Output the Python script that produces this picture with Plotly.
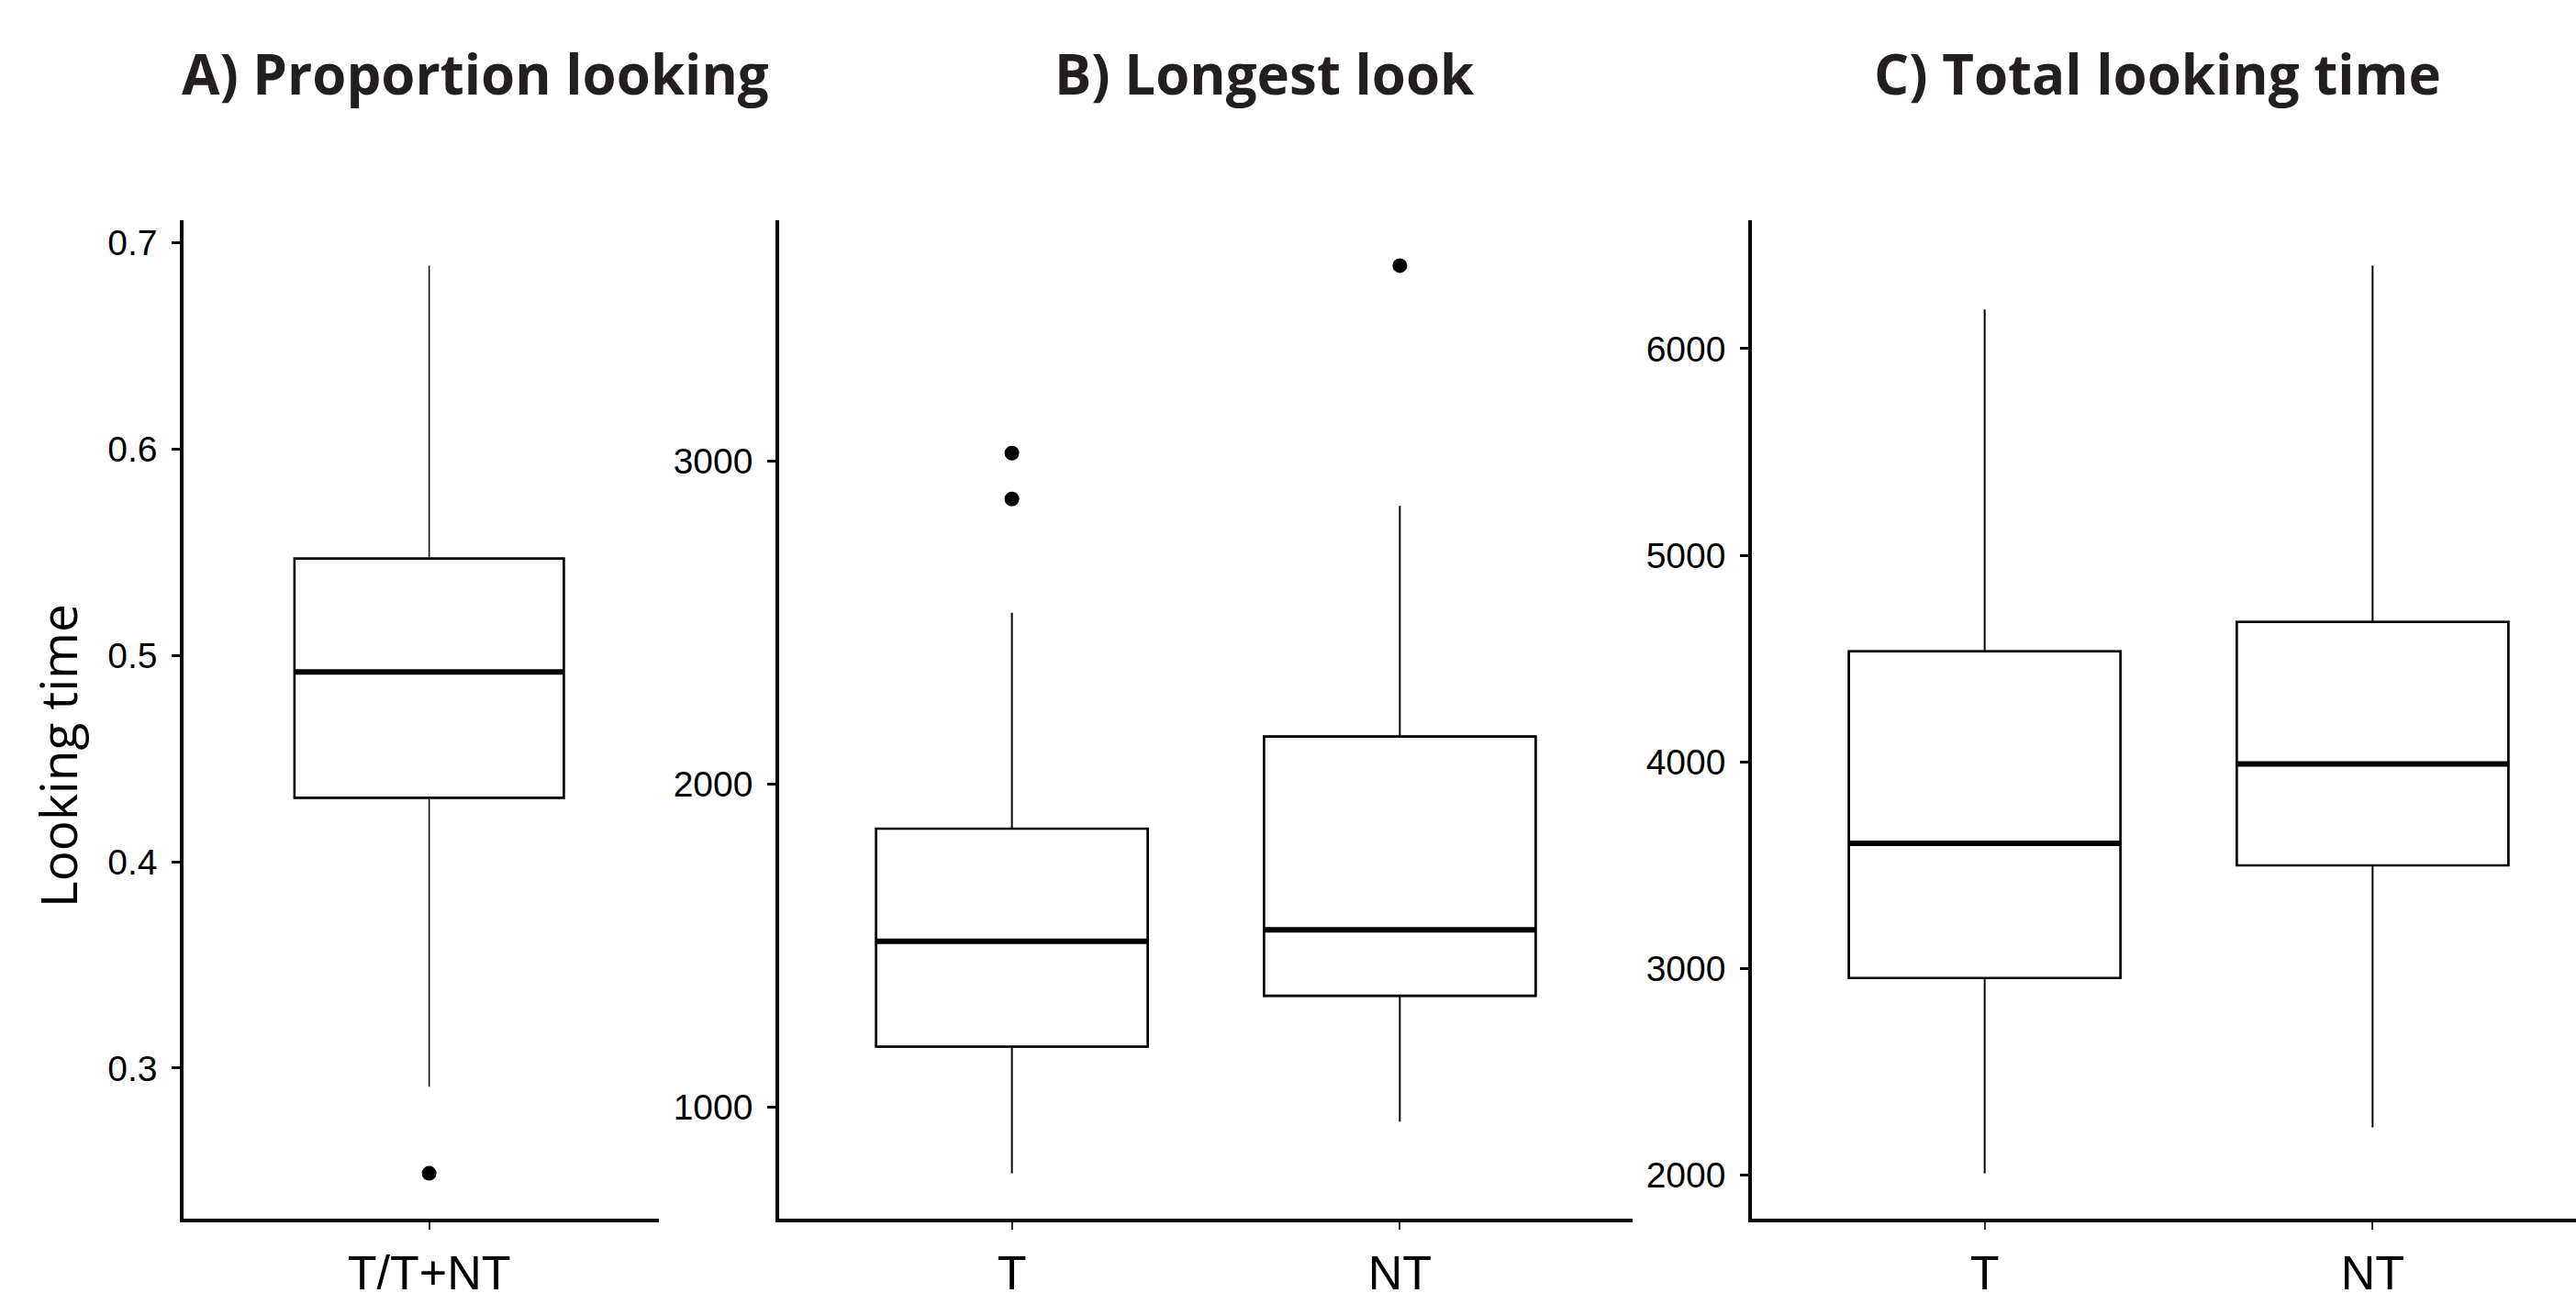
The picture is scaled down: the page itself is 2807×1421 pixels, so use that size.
import plotly.graph_objects as go

W, H = 2807, 1421

# ---------------- data ----------------
# Panel A: Proportion looking
a_title = "A) Proportion looking"
a_cats = ["T/T+NT"]
a_q1 = [0.431]
a_med = [0.492]
a_q3 = [0.547]
a_lo = [0.291]
a_hi = [0.689]
a_out = [[0.249]]
a_ticks = [0.3, 0.4, 0.5, 0.6, 0.7]

# Panel B: Longest look
b_title = "B) Longest look"
b_cats = ["T", "NT"]
b_q1 = [1188, 1345]
b_med = [1514, 1549]
b_q3 = [1862, 2147]
b_lo = [796, 956]
b_hi = [2530, 2861]
b_out = [[3024, 2882], [3604]]
b_ticks = [1000, 2000, 3000]

# Panel C: Total looking time
c_title = "C) Total looking time"
c_cats = ["T", "NT"]
c_q1 = [2955, 3500]
c_med = [3607, 3991]
c_q3 = [4536, 4678]
c_lo = [2010, 2232]
c_hi = [6190, 6402]
c_out = [[], []]
c_ticks = [2000, 3000, 4000, 5000, 6000]

y_title = "Looking time"

# ---------------- layout geometry (pixels) ----------------
panels = [
    dict(title=a_title, cats=a_cats, q1=a_q1, med=a_med, q3=a_q3, lo=a_lo, hi=a_hi,
         out=a_out, ticks=a_ticks, x0=200, x1=718, xr=[-0.62, 0.58], bw=0.68, tx=196, ww=1.5),
    dict(title=b_title, cats=b_cats, q1=b_q1, med=b_med, q3=b_q3, lo=b_lo, hi=b_hi,
         out=b_out, ticks=b_ticks, x0=849, x1=1779, xr=[-0.6, 1.6], bw=0.7, tx=1147, ww=2),
    dict(title=c_title, cats=c_cats, q1=c_q1, med=c_med, q3=c_q3, lo=c_lo, hi=c_hi,
         out=c_out, ticks=c_ticks, x0=1909, x1=W, xr=None, bw=0.7, tx=2040, ww=2),
]
# panel C is clipped at the right edge: keep same px/unit as panel B
ppu = (1779 - 849) / 2.2
panels[2]["xr"] = [-0.6, -0.6 + (W - 1909) / ppu]

top_px, bot_px = 240, 1328
ydom = [(H - bot_px) / H, (H - top_px) / H]

TICKFONT = "Liberation Sans, Arial, sans-serif"
TITLEFONT = "Open Sans, Noto Sans, sans-serif"

fig = go.Figure()
layout = dict(
    template="none",
    width=W, height=H,
    margin=dict(l=0, r=0, t=0, b=0, pad=0, autoexpand=False),
    paper_bgcolor="white", plot_bgcolor="white",
    showlegend=False,
    boxmode="overlay",
    annotations=[],
)

for i, p in enumerate(panels):
    n = i + 1
    xa = "x" if n == 1 else f"x{n}"
    ya = "y" if n == 1 else f"y{n}"
    pos = list(range(len(p["cats"])))
    bw = p["bw"]

    # whiskers + thin outline
    fig.add_trace(go.Box(
        x=pos, q1=p["q1"], median=p["med"], q3=p["q3"],
        lowerfence=p["lo"], upperfence=p["hi"],
        width=bw, whiskerwidth=0, boxpoints=False,
        line=dict(color="black", width=p["ww"]), fillcolor="white",
        hoverinfo="skip", xaxis=xa, yaxis=ya,
    ))
    # thicker box outline
    fig.add_trace(go.Box(
        x=pos, q1=p["q1"], median=p["med"], q3=p["q3"],
        lowerfence=p["q1"], upperfence=p["q3"],
        width=bw, whiskerwidth=0, boxpoints=False,
        line=dict(color="black", width=2.6), fillcolor="white",
        hoverinfo="skip", xaxis=xa, yaxis=ya,
    ))
    # thick median line
    mx, my = [], []
    for k, m in zip(pos, p["med"]):
        mx += [k - bw / 2, k + bw / 2, None]
        my += [m, m, None]
    fig.add_trace(go.Scatter(
        x=mx, y=my, mode="lines", line=dict(color="black", width=6),
        hoverinfo="skip", xaxis=xa, yaxis=ya,
    ))
    # outliers
    ox, oy = [], []
    for k, outs in zip(pos, p["out"]):
        for v in outs:
            ox.append(k)
            oy.append(v)
    if ox:
        fig.add_trace(go.Scatter(
            x=ox, y=oy, mode="markers",
            marker=dict(color="black", size=16, line=dict(width=0)),
            hoverinfo="skip", xaxis=xa, yaxis=ya,
        ))

    allv = p["lo"] + p["hi"] + [v for o in p["out"] for v in o]
    vmin, vmax = min(allv), max(allv)
    pad = 0.05 * (vmax - vmin)

    xkey = "xaxis" if n == 1 else f"xaxis{n}"
    ykey = "yaxis" if n == 1 else f"yaxis{n}"
    layout[xkey] = dict(
        domain=[p["x0"] / W, min(1.0, p["x1"] / W)], anchor=ya,
        range=p["xr"], tickvals=pos, ticktext=p["cats"],
        automargin=False,
        showline=True, linecolor="black", linewidth=3.5,
        ticks="outside", ticklen=8, tickwidth=2, tickcolor="#333333",
        tickfont=dict(family=TICKFONT, size=52, color="black"),
        ticklabelstandoff=3,
        showgrid=False, zeroline=False, fixedrange=True,
    )
    layout[ykey] = dict(
        domain=ydom, anchor=xa,
        range=[vmin - pad, vmax + pad], tickvals=p["ticks"],
        ticktext=[str(t) for t in p["ticks"]],
        automargin=False,
        showline=True, linecolor="black", linewidth=3.5,
        ticks="outside", ticklen=9, tickwidth=3, tickcolor="black",
        tickfont=dict(family=TICKFONT, size=39, color="black"),
        ticklabelstandoff=8,
        showgrid=False, zeroline=False, fixedrange=True,
    )
    layout["annotations"].append(dict(
        text=p["title"], x=p["tx"] / W, y=1 - 80 / H, xref="paper", yref="paper",
        xanchor="left", yanchor="middle", showarrow=False,
        font=dict(family=TITLEFONT, size=60, color="#231f20", weight=700),
    ))

layout["annotations"].append(dict(
    text=y_title, x=62 / W, y=1 - 824 / H, xref="paper", yref="paper",
    xanchor="center", yanchor="middle", textangle=-90, showarrow=False,
    font=dict(family=TITLEFONT, size=55, color="black"),
))

fig.update_layout(**layout)

post = (
    "var gd=document.getElementById('{plot_id}');"
    "gd.style.position='fixed';gd.style.left='0px';gd.style.top='0px';"
    "document.documentElement.style.margin='0';document.body.style.margin='0';"
    "document.documentElement.style.overflow='hidden';document.body.style.overflow='hidden';"
)
fig.write_html("out.html", config={"displayModeBar": False}, post_script=post)
